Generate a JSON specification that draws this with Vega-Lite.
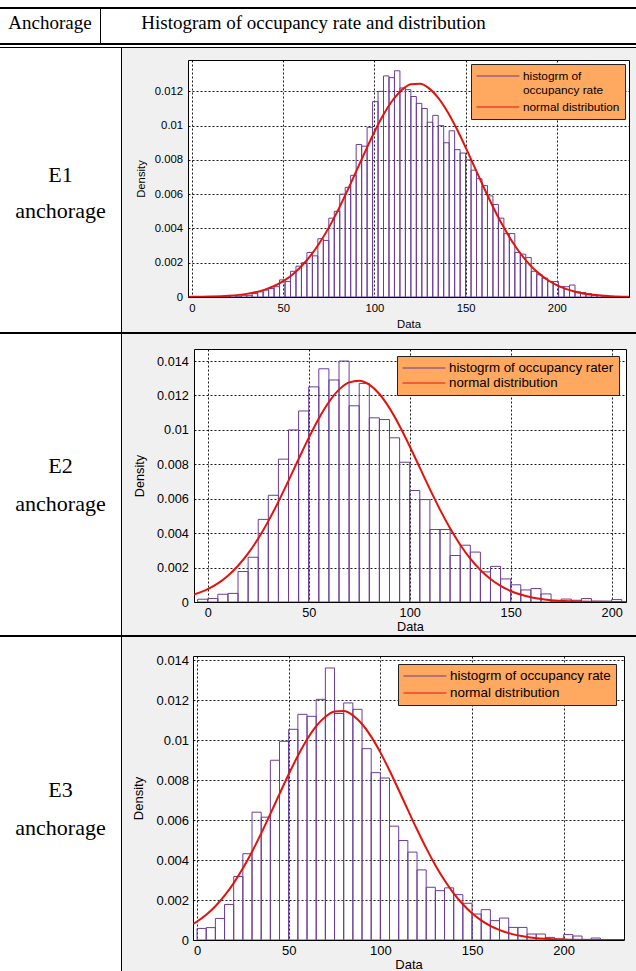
{
  "$schema": "https://vega.github.io/schema/vega-lite/v6.json",
  "background": "#f0f0f0",
  "padding": 0,
  "spacing": 0,
  "config": {"view": {"stroke": null}, "concat": {"spacing": 0}, "font": "Liberation Sans"},
  "resolve": {"scale": {"x": "independent", "y": "independent", "stroke": "independent"}, "legend": {"stroke": "independent"}},
  "datasets": {
    "e1_hist": [
      {"start":18,"end":21,"density":0.00005},{"start":21,"end":24,"density":0.00008},{"start":24,"end":27,"density":0.00005},{"start":27,"end":30,"density":0.0001},{"start":30,"end":33,"density":0.0001},{"start":33,"end":36,"density":0.0002},{"start":36,"end":39,"density":0.0003},{"start":39,"end":42,"density":0.0004},{"start":42,"end":45,"density":0.0005},{"start":45,"end":48,"density":0.0006},{"start":48,"end":51,"density":0.001},{"start":51,"end":54,"density":0.0009},{"start":54,"end":57,"density":0.0015},{"start":57,"end":60,"density":0.0018},{"start":60,"end":63,"density":0.002},{"start":63,"end":66,"density":0.0026},{"start":66,"end":69,"density":0.0024},{"start":69,"end":72,"density":0.0034},{"start":72,"end":75,"density":0.0033},{"start":75,"end":78,"density":0.0046},{"start":78,"end":81,"density":0.005},{"start":81,"end":84,"density":0.006},{"start":84,"end":87,"density":0.0064},{"start":87,"end":90,"density":0.0071},{"start":90,"end":93,"density":0.0089},{"start":93,"end":96,"density":0.0088},{"start":96,"end":99,"density":0.0099},{"start":99,"end":102,"density":0.0114},{"start":102,"end":105,"density":0.012},{"start":105,"end":108,"density":0.0129},{"start":108,"end":111,"density":0.0128},{"start":111,"end":114,"density":0.0132},{"start":114,"end":117,"density":0.0122},{"start":117,"end":120,"density":0.0121},{"start":120,"end":123,"density":0.0117},{"start":123,"end":126,"density":0.0113},{"start":126,"end":129,"density":0.011},{"start":129,"end":132,"density":0.0102},{"start":132,"end":135,"density":0.0106},{"start":135,"end":138,"density":0.01},{"start":138,"end":141,"density":0.009},{"start":141,"end":144,"density":0.0097},{"start":144,"end":147,"density":0.0086},{"start":147,"end":150,"density":0.0084},{"start":150,"end":153,"density":0.008},{"start":153,"end":156,"density":0.0074},{"start":156,"end":159,"density":0.0069},{"start":159,"end":162,"density":0.0065},{"start":162,"end":165,"density":0.0059},{"start":165,"end":168,"density":0.0054},{"start":168,"end":171,"density":0.0046},{"start":171,"end":174,"density":0.0037},{"start":174,"end":177,"density":0.0037},{"start":177,"end":180,"density":0.0026},{"start":180,"end":183,"density":0.0025},{"start":183,"end":186,"density":0.0023},{"start":186,"end":189,"density":0.0015},{"start":189,"end":192,"density":0.0013},{"start":192,"end":195,"density":0.0011},{"start":195,"end":198,"density":0.0009},{"start":198,"end":201,"density":0.0009},{"start":201,"end":204,"density":0.0006},{"start":204,"end":207,"density":0.0006},{"start":207,"end":210,"density":0.0007},{"start":210,"end":213,"density":0.0003},{"start":213,"end":216,"density":0.00026},{"start":216,"end":219,"density":0.0002},{"start":219,"end":222,"density":0.0001},{"start":222,"end":225,"density":0.00008},{"start":225,"end":228,"density":0.00005},{"start":228,"end":231,"density":0.00003}
    ],
    "e1_norm": [
      {"x":-2,"y":0.0000061},{"x":0,"y":0.0000077},{"x":10,"y":0.0000245},{"x":20,"y":0.0000702},{"x":30,"y":0.000183},{"x":40,"y":0.000431},{"x":50,"y":0.000924},{"x":55,"y":0.001304},{"x":60,"y":0.001795},{"x":65,"y":0.002411},{"x":70,"y":0.003163},{"x":75,"y":0.004048},{"x":80,"y":0.005054},{"x":85,"y":0.00616},{"x":90,"y":0.007326},{"x":95,"y":0.008501},{"x":100,"y":0.009629},{"x":105,"y":0.010643},{"x":110,"y":0.01148},{"x":115,"y":0.012083},{"x":120,"y":0.012412},{"x":125,"y":0.012443},{"x":130,"y":0.012173},{"x":135,"y":0.011621},{"x":140,"y":0.010826},{"x":145,"y":0.009843},{"x":150,"y":0.008733},{"x":155,"y":0.007562},{"x":160,"y":0.006389},{"x":165,"y":0.005269},{"x":170,"y":0.00424},{"x":175,"y":0.00333},{"x":180,"y":0.002552},{"x":185,"y":0.001908},{"x":190,"y":0.001393},{"x":195,"y":0.000992},{"x":200,"y":0.00069},{"x":210,"y":0.00031},{"x":220,"y":0.000126},{"x":230,"y":0.0000466},{"x":240,"y":0.0000156}
    ],
    "e2_hist": [
      {"start":-5,"end":0,"density":0.00016},{"start":0,"end":5,"density":0.0002},{"start":5,"end":10,"density":0.00045},{"start":10,"end":15,"density":0.0005},{"start":15,"end":20,"density":0.00177},{"start":20,"end":25,"density":0.0026},{"start":25,"end":30,"density":0.0048},{"start":30,"end":35,"density":0.0062},{"start":35,"end":40,"density":0.0083},{"start":40,"end":45,"density":0.01},{"start":45,"end":50,"density":0.0111},{"start":50,"end":55,"density":0.0125},{"start":55,"end":60,"density":0.01355},{"start":60,"end":65,"density":0.0129},{"start":65,"end":70,"density":0.014},{"start":70,"end":75,"density":0.0114},{"start":75,"end":80,"density":0.0127},{"start":80,"end":85,"density":0.0107},{"start":85,"end":90,"density":0.0106},{"start":90,"end":95,"density":0.00954},{"start":95,"end":100,"density":0.00812},{"start":100,"end":105,"density":0.00648},{"start":105,"end":110,"density":0.00595},{"start":110,"end":115,"density":0.00421},{"start":115,"end":120,"density":0.00421},{"start":120,"end":125,"density":0.0027},{"start":125,"end":130,"density":0.0033},{"start":130,"end":135,"density":0.0029},{"start":135,"end":140,"density":0.00175},{"start":140,"end":145,"density":0.00207},{"start":145,"end":150,"density":0.00134},{"start":150,"end":155,"density":0.001},{"start":155,"end":160,"density":0.0007},{"start":160,"end":165,"density":0.00078},{"start":165,"end":170,"density":0.00047},{"start":170,"end":175,"density":0.00005},{"start":175,"end":180,"density":0.00017},{"start":180,"end":185,"density":0.0001},{"start":185,"end":190,"density":0.0002},{"start":190,"end":195,"density":0.00005},{"start":195,"end":200,"density":0.00005},{"start":200,"end":205,"density":0.00014}
    ],
    "e2_norm": [
      {"x":-7,"y":0.000424},{"x":0,"y":0.000745},{"x":5,"y":0.001081},{"x":10,"y":0.001528},{"x":15,"y":0.002104},{"x":20,"y":0.002823},{"x":25,"y":0.00369},{"x":30,"y":0.0047},{"x":35,"y":0.005833},{"x":40,"y":0.007052},{"x":45,"y":0.008308},{"x":50,"y":0.009536},{"x":55,"y":0.010666},{"x":60,"y":0.011621},{"x":65,"y":0.012338},{"x":70,"y":0.012762},{"x":75,"y":0.012862},{"x":80,"y":0.01263},{"x":85,"y":0.012084},{"x":90,"y":0.011264},{"x":95,"y":0.010231},{"x":100,"y":0.009053},{"x":105,"y":0.007805},{"x":110,"y":0.006557},{"x":115,"y":0.005366},{"x":120,"y":0.00428},{"x":125,"y":0.003326},{"x":130,"y":0.002517},{"x":135,"y":0.001857},{"x":140,"y":0.001334},{"x":145,"y":0.000934},{"x":150,"y":0.000637},{"x":160,"y":0.000274},{"x":170,"y":0.000106},{"x":180,"y":0.0000372},{"x":190,"y":0.0000117},{"x":207,"y":0.0000013}
    ],
    "e3_hist": [
      {"start":0,"end":5,"density":0.00058},{"start":5,"end":10,"density":0.00062},{"start":10,"end":15,"density":0.00108},{"start":15,"end":20,"density":0.00178},{"start":20,"end":25,"density":0.00318},{"start":25,"end":30,"density":0.00432},{"start":30,"end":35,"density":0.0064},{"start":35,"end":40,"density":0.00615},{"start":40,"end":45,"density":0.009},{"start":45,"end":50,"density":0.00995},{"start":50,"end":55,"density":0.01055},{"start":55,"end":60,"density":0.0113},{"start":60,"end":65,"density":0.0112},{"start":65,"end":70,"density":0.01205},{"start":70,"end":75,"density":0.01362},{"start":75,"end":80,"density":0.01134},{"start":80,"end":85,"density":0.01187},{"start":85,"end":90,"density":0.01155},{"start":90,"end":95,"density":0.00958},{"start":95,"end":100,"density":0.00838},{"start":100,"end":105,"density":0.00811},{"start":105,"end":110,"density":0.0057},{"start":110,"end":115,"density":0.00498},{"start":115,"end":120,"density":0.0044},{"start":120,"end":125,"density":0.00351},{"start":125,"end":130,"density":0.00264},{"start":130,"end":135,"density":0.00247},{"start":135,"end":140,"density":0.00261},{"start":140,"end":145,"density":0.00227},{"start":145,"end":150,"density":0.00184},{"start":150,"end":155,"density":0.0013},{"start":155,"end":160,"density":0.00152},{"start":160,"end":165,"density":0.00097},{"start":165,"end":170,"density":0.0011},{"start":170,"end":175,"density":0.00063},{"start":175,"end":180,"density":0.00063},{"start":180,"end":185,"density":0.0003},{"start":185,"end":190,"density":0.0003},{"start":190,"end":195,"density":0.00013},{"start":195,"end":200,"density":0.00005},{"start":200,"end":205,"density":0.00027},{"start":205,"end":210,"density":0.0002},{"start":210,"end":215,"density":0.00003},{"start":215,"end":220,"density":0.0001},{"start":220,"end":225,"density":0.00002}
    ],
    "e3_norm": [
      {"x":-2,"y":0.000811},{"x":0,"y":0.000925},{"x":5,"y":0.001264},{"x":10,"y":0.001692},{"x":15,"y":0.002219},{"x":20,"y":0.00285},{"x":25,"y":0.003588},{"x":30,"y":0.004422},{"x":35,"y":0.005338},{"x":40,"y":0.006314},{"x":45,"y":0.007314},{"x":50,"y":0.008298},{"x":55,"y":0.009222},{"x":60,"y":0.010038},{"x":65,"y":0.010704},{"x":70,"y":0.011179},{"x":75,"y":0.011437},{"x":80,"y":0.011461},{"x":85,"y":0.011249},{"x":90,"y":0.010815},{"x":95,"y":0.010185},{"x":100,"y":0.009395},{"x":105,"y":0.008488},{"x":110,"y":0.007512},{"x":115,"y":0.006513},{"x":120,"y":0.00553},{"x":125,"y":0.004599},{"x":130,"y":0.003747},{"x":135,"y":0.002991},{"x":140,"y":0.002337},{"x":145,"y":0.001789},{"x":150,"y":0.001342},{"x":155,"y":0.000986},{"x":160,"y":0.000709},{"x":170,"y":0.000345},{"x":180,"y":0.000155},{"x":190,"y":0.0000637},{"x":200,"y":0.0000242},{"x":215,"y":0.0000048},{"x":233,"y":0.0000005}
    ]
  },
  "vconcat": [
    {"width": 636, "height": 7, "view": {"fill": "#ffffff"}, "data": {"values": [{}]}, "mark": {"type": "text", "text": "", "fontSize": 0}},
    {"width": 636, "height": 2, "view": {"fill": "#000000"}, "data": {"values": [{}]}, "mark": {"type": "text", "text": "", "fontSize": 0}},
    {
      "hconcat": [
        {"width": 100, "height": 34, "view": {"fill": "#ffffff"}, "data": {"values": [{"t": "Anchorage"}]}, "mark": {"type": "text", "font": "Liberation Serif", "fontSize": 19, "dy": -3, "color": "#000"}, "encoding": {"text": {"field": "t"}}},
        {"width": 1, "height": 34, "view": {"fill": "#000000"}, "data": {"values": [{}]}, "mark": {"type": "text", "text": "", "fontSize": 0}},
        {"width": 535, "height": 34, "view": {"fill": "#ffffff"}, "data": {"values": [{"t": "Histogram of occupancy rate and distribution"}]}, "mark": {"type": "text", "font": "Liberation Serif", "fontSize": 19, "dy": -3, "dx": -55, "color": "#000"}, "encoding": {"text": {"field": "t"}}}
      ],
      "spacing": 0
    },
    {"width": 636, "height": 2, "view": {"fill": "#000000"}, "data": {"values": [{}]}, "mark": {"type": "text", "text": "", "fontSize": 0}},
    {"width": 636, "height": 2, "view": {"fill": "#ffffff"}, "data": {"values": [{}]}, "mark": {"type": "text", "text": "", "fontSize": 0}},
    {"width": 636, "height": 1, "view": {"fill": "#000000"}, "data": {"values": [{}]}, "mark": {"type": "text", "text": "", "fontSize": 0}},
    {
      "hconcat": [
        {"width": 121, "height": 284, "view": {"fill": "#ffffff"}, "data": {"values": [{"t": "E1\nanchorage"}]}, "mark": {"type": "text", "font": "Liberation Serif", "fontSize": 22, "lineBreak": "\n", "lineHeight": 36, "dy": -15, "color": "#000"}, "encoding": {"text": {"field": "t"}}},
        {"width": 1, "height": 284, "view": {"fill": "#000000"}, "data": {"values": [{}]}, "mark": {"type": "text", "text": "", "fontSize": 0}},
        {
          "vconcat": [
            {"width": 507, "height": 11, "data": {"values": [{}]}, "mark": {"type": "text", "text": "", "fontSize": 0}},
            {
              "hconcat": [
                {"width": 66, "height": 237, "data": {"values": [{}]}, "mark": {"type": "text", "text": "", "fontSize": 0}},
                {
                  "width": 441, "height": 237,
                  "view": {"fill": "#ffffff", "stroke": "#000000", "strokeWidth": 1},
                  "layer": [
                    {
                      "data": {"name": "e1_hist"},
                      "mark": {"type": "bar", "fill": "transparent", "strokeWidth": 1, "clip": true},
                      "encoding": {
                        "x": {"field": "start", "type": "quantitative", "scale": {"domain": [-2.2, 239.6], "nice": false, "zero": false},
                          "axis": {"values": [0, 50, 100, 150, 200], "tickCount": 20, "title": "Data", "grid": true, "gridColor": "#000", "gridDash": [2, 2], "gridOpacity": 0.9, "domain": false, "ticks": false, "tickSize": 0, "labelPadding": 5.5, "labelFont": "Liberation Sans", "labelFontSize": 11.3, "labelColor": "#000", "labelFlush": false, "labelOverlap": false, "titleFont": "Liberation Sans", "titleFontSize": 11.3, "titleFontWeight": "normal", "titleColor": "#000", "titlePadding": 6.5, "minExtent": 15, "maxExtent": 15}},
                        "x2": {"field": "end"},
                        "y": {"field": "density", "type": "quantitative", "scale": {"domain": [0, 0.01383], "nice": false},
                          "axis": {"values": [0, 0.002, 0.004, 0.006, 0.008, 0.01, 0.012], "tickCount": 20, "format": "~g", "title": "Density", "grid": true, "gridColor": "#000", "gridDash": [2, 2], "gridOpacity": 0.9, "domain": false, "ticks": false, "tickSize": 0, "labelPadding": 5.4, "labelFont": "Liberation Sans", "labelFontSize": 11.3, "labelColor": "#000", "labelOverlap": false, "titleFont": "Liberation Sans", "titleFontSize": 11.3, "titleFontWeight": "normal", "titleColor": "#000", "titlePadding": 9, "minExtent": 33, "maxExtent": 33}},
                        "y2": {"datum": 0},
                        "stroke": {"datum": "histogrm of occupancy rate", "type": "nominal",
                          "scale": {"domain": ["histogrm of occupancy rate", "normal distribution"], "range": ["#6a3d9a", "#e3120b"]},
                          "legend": {"title": null, "orient": "top-right", "offset": 4, "fillColor": "#ffa860", "strokeColor": "#222", "padding": 5, "symbolType": "M-1,0H5.6", "symbolSize": 169, "symbolStrokeWidth": 1, "labelOffset": 33, "labelFont": "Liberation Sans", "labelFontSize": 11.8, "labelColor": "#000", "labelLimit": 400, "rowPadding": 3,
                            "labelExpr": "datum.label === 'histogrm of occupancy rate' ? ['histogrm of', 'occupancy rate'] : datum.label",
                            "encode": {"symbols": {"update": {"strokeWidth": {"signal": "datum.value === 'normal distribution' ? 2.5 : 1"}, "fill": {"value": "transparent"}}}}}}
                      }
                    },
                    {
                      "data": {"name": "e1_norm"},
                      "mark": {"type": "line", "strokeWidth": 2, "interpolate": "monotone", "clip": true},
                      "encoding": {"x": {"field": "x", "type": "quantitative"}, "y": {"field": "y", "type": "quantitative"}, "stroke": {"datum": "normal distribution", "type": "nominal"}}
                    }
                  ]
                }
              ],
              "spacing": 0, "bounds": "flush",
              "resolve": {"scale": {"x": "independent", "y": "independent", "stroke": "independent"}, "legend": {"stroke": "independent"}}
            }
          ],
          "spacing": 0,
          "resolve": {"scale": {"x": "independent", "y": "independent", "stroke": "independent"}, "legend": {"stroke": "independent"}}
        }
      ],
      "spacing": 0,
      "resolve": {"scale": {"x": "independent", "y": "independent", "stroke": "independent"}, "legend": {"stroke": "independent"}}
    },
    {"width": 636, "height": 2, "view": {"fill": "#000000"}, "data": {"values": [{}]}, "mark": {"type": "text", "text": "", "fontSize": 0}},
    {
      "hconcat": [
        {"width": 121, "height": 301, "view": {"fill": "#ffffff"}, "data": {"values": [{"t": "E2\nanchorage"}]}, "mark": {"type": "text", "font": "Liberation Serif", "fontSize": 22, "lineBreak": "\n", "lineHeight": 38, "dy": -19, "color": "#000"}, "encoding": {"text": {"field": "t"}}},
        {"width": 1, "height": 301, "view": {"fill": "#000000"}, "data": {"values": [{}]}, "mark": {"type": "text", "text": "", "fontSize": 0}},
        {
          "vconcat": [
            {"width": 504, "height": 14, "data": {"values": [{}]}, "mark": {"type": "text", "text": "", "fontSize": 0}},
            {
              "hconcat": [
                {"width": 72, "height": 253, "data": {"values": [{}]}, "mark": {"type": "text", "text": "", "fontSize": 0}},
                {
                  "width": 432, "height": 253,
                  "view": {"fill": "#ffffff", "stroke": "#000000", "strokeWidth": 1},
                  "layer": [
                    {
                      "data": {"name": "e2_hist"},
                      "mark": {"type": "bar", "fill": "transparent", "strokeWidth": 1, "clip": true},
                      "encoding": {
                        "x": {"field": "start", "type": "quantitative", "scale": {"domain": [-6.8, 207.1], "nice": false, "zero": false},
                          "axis": {"values": [0, 50, 100, 150, 200], "tickCount": 20, "title": "Data", "grid": true, "gridColor": "#000", "gridDash": [2, 2], "gridOpacity": 0.9, "domain": false, "ticks": false, "tickSize": 0, "labelPadding": 4, "labelFont": "Liberation Sans", "labelFontSize": 12.7, "labelColor": "#000", "labelFlush": false, "labelOverlap": false, "titleFont": "Liberation Sans", "titleFontSize": 12.7, "titleFontWeight": "normal", "titleColor": "#000", "titlePadding": 1.5, "minExtent": 17, "maxExtent": 17}},
                        "x2": {"field": "end"},
                        "y": {"field": "density", "type": "quantitative", "scale": {"domain": [0, 0.0147], "nice": false},
                          "axis": {"values": [0, 0.002, 0.004, 0.006, 0.008, 0.01, 0.012, 0.014], "tickCount": 20, "format": "~g", "title": "Density", "grid": true, "gridColor": "#000", "gridDash": [2, 2], "gridOpacity": 0.9, "domain": false, "ticks": false, "tickSize": 0, "labelPadding": 5.7, "labelFont": "Liberation Sans", "labelFontSize": 12.7, "labelColor": "#000", "labelOverlap": false, "titleFont": "Liberation Sans", "titleFontSize": 12.7, "titleFontWeight": "normal", "titleColor": "#000", "titlePadding": 9.3, "minExtent": 38, "maxExtent": 38}},
                        "y2": {"datum": 0},
                        "stroke": {"datum": "histogrm of occupancy rater", "type": "nominal",
                          "scale": {"domain": ["histogrm of occupancy rater", "normal distribution"], "range": ["#6a3d9a", "#e3120b"]},
                          "legend": {"title": null, "orient": "top-right", "offset": 7, "fillColor": "#ffa860", "strokeColor": "#222", "padding": 5, "symbolType": "M-1,0H5.6", "symbolSize": 169, "symbolStrokeWidth": 1, "labelOffset": 33, "labelFont": "Liberation Sans", "labelFontSize": 13.3, "labelColor": "#000", "labelLimit": 400, "rowPadding": 1,
                            "encode": {"symbols": {"update": {"strokeWidth": {"signal": "datum.value === 'normal distribution' ? 2.5 : 1"}, "fill": {"value": "transparent"}}}}}}
                      }
                    },
                    {
                      "data": {"name": "e2_norm"},
                      "mark": {"type": "line", "strokeWidth": 2, "interpolate": "monotone", "clip": true},
                      "encoding": {"x": {"field": "x", "type": "quantitative"}, "y": {"field": "y", "type": "quantitative"}, "stroke": {"datum": "normal distribution", "type": "nominal"}}
                    }
                  ]
                }
              ],
              "spacing": 0, "bounds": "flush",
              "resolve": {"scale": {"x": "independent", "y": "independent", "stroke": "independent"}, "legend": {"stroke": "independent"}}
            }
          ],
          "spacing": 0,
          "resolve": {"scale": {"x": "independent", "y": "independent", "stroke": "independent"}, "legend": {"stroke": "independent"}}
        }
      ],
      "spacing": 0,
      "resolve": {"scale": {"x": "independent", "y": "independent", "stroke": "independent"}, "legend": {"stroke": "independent"}}
    },
    {"width": 636, "height": 2, "view": {"fill": "#000000"}, "data": {"values": [{}]}, "mark": {"type": "text", "text": "", "fontSize": 0}},
    {
      "hconcat": [
        {"width": 121, "height": 334, "view": {"fill": "#ffffff"}, "data": {"values": [{"t": "E3\nanchorage"}]}, "mark": {"type": "text", "font": "Liberation Serif", "fontSize": 22, "lineBreak": "\n", "lineHeight": 38, "dy": -14, "color": "#000"}, "encoding": {"text": {"field": "t"}}},
        {"width": 1, "height": 334, "view": {"fill": "#000000"}, "data": {"values": [{}]}, "mark": {"type": "text", "text": "", "fontSize": 0}},
        {
          "vconcat": [
            {"width": 502, "height": 16, "data": {"values": [{}]}, "mark": {"type": "text", "text": "", "fontSize": 0}},
            {
              "hconcat": [
                {"width": 71, "height": 284, "data": {"values": [{}]}, "mark": {"type": "text", "text": "", "fontSize": 0}},
                {
                  "width": 431, "height": 284,
                  "view": {"fill": "#ffffff", "stroke": "#000000", "strokeWidth": 1},
                  "layer": [
                    {
                      "data": {"name": "e3_hist"},
                      "mark": {"type": "bar", "fill": "transparent", "strokeWidth": 1, "clip": true},
                      "encoding": {
                        "x": {"field": "start", "type": "quantitative", "scale": {"domain": [-2.2, 232.9], "nice": false, "zero": false},
                          "axis": {"values": [0, 50, 100, 150, 200], "tickCount": 20, "title": "Data", "grid": true, "gridColor": "#000", "gridDash": [2, 2], "gridOpacity": 0.9, "domain": false, "ticks": false, "tickSize": 0, "labelPadding": 4.8, "labelFont": "Liberation Sans", "labelFontSize": 13, "labelColor": "#000", "labelFlush": false, "labelOverlap": false, "titleFont": "Liberation Sans", "titleFontSize": 13, "titleFontWeight": "normal", "titleColor": "#000", "titlePadding": 1, "minExtent": 17, "maxExtent": 17}},
                        "x2": {"field": "end"},
                        "y": {"field": "density", "type": "quantitative", "scale": {"domain": [0, 0.01422], "nice": false},
                          "axis": {"values": [0, 0.002, 0.004, 0.006, 0.008, 0.01, 0.012, 0.014], "tickCount": 20, "format": "~g", "title": "Density", "grid": true, "gridColor": "#000", "gridDash": [2, 2], "gridOpacity": 0.9, "domain": false, "ticks": false, "tickSize": 0, "labelPadding": 4.4, "labelFont": "Liberation Sans", "labelFontSize": 13, "labelColor": "#000", "labelOverlap": false, "titleFont": "Liberation Sans", "titleFontSize": 13, "titleFontWeight": "normal", "titleColor": "#000", "titlePadding": 9.7, "minExtent": 38, "maxExtent": 38}},
                        "y2": {"datum": 0},
                        "stroke": {"datum": "histogrm of occupancy rate", "type": "nominal",
                          "scale": {"domain": ["histogrm of occupancy rate", "normal distribution"], "range": ["#6a3d9a", "#e3120b"]},
                          "legend": {"title": null, "orient": "top-right", "offset": 8, "fillColor": "#ffa860", "strokeColor": "#222", "padding": 5, "symbolType": "M-1,0H5.6", "symbolSize": 169, "symbolStrokeWidth": 1, "labelOffset": 33, "labelFont": "Liberation Sans", "labelFontSize": 13.4, "labelColor": "#000", "labelLimit": 400, "rowPadding": 3,
                            "encode": {"symbols": {"update": {"strokeWidth": {"signal": "datum.value === 'normal distribution' ? 2.5 : 1"}, "fill": {"value": "transparent"}}}}}}
                      }
                    },
                    {
                      "data": {"name": "e3_norm"},
                      "mark": {"type": "line", "strokeWidth": 2, "interpolate": "monotone", "clip": true},
                      "encoding": {"x": {"field": "x", "type": "quantitative"}, "y": {"field": "y", "type": "quantitative"}, "stroke": {"datum": "normal distribution", "type": "nominal"}}
                    }
                  ]
                }
              ],
              "spacing": 0, "bounds": "flush",
              "resolve": {"scale": {"x": "independent", "y": "independent", "stroke": "independent"}, "legend": {"stroke": "independent"}}
            }
          ],
          "spacing": 0,
          "resolve": {"scale": {"x": "independent", "y": "independent", "stroke": "independent"}, "legend": {"stroke": "independent"}}
        }
      ],
      "spacing": 0,
      "resolve": {"scale": {"x": "independent", "y": "independent", "stroke": "independent"}, "legend": {"stroke": "independent"}}
    }
  ]
}
